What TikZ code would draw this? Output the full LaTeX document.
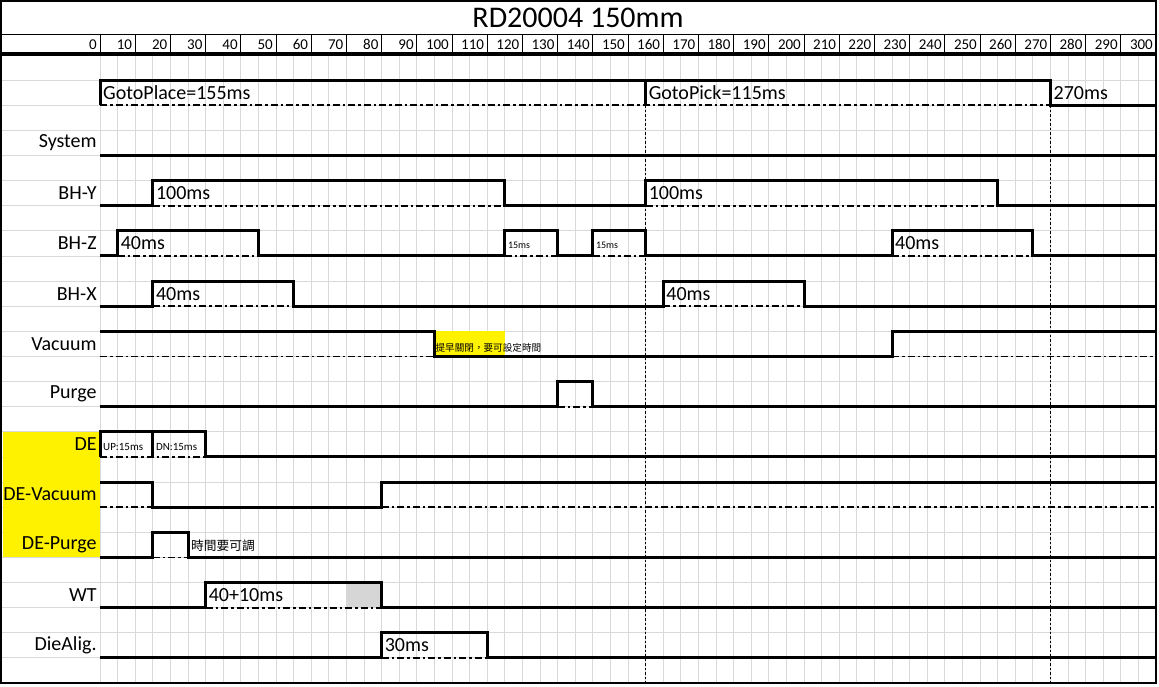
\documentclass[tikz,border=0pt]{standalone}
\usepackage{fontspec}
\setmainfont{Carlito}
\newfontfamily\cjkfont{Noto Sans CJK TC}
\usepackage{xcolor}
\usepackage{tikz}

\begin{document}
\begin{tikzpicture}[
    x=3.52pt, y=-25.12pt,
    gridline/.style={draw=black!15, line width=0.8pt},
    frame/.style={draw=black, line width=1.1pt},
    sig/.style={line width=3pt},
    base/.style={line width=1.8pt, dash pattern=on 7pt off 3pt on 2.5pt off 3pt},
    tmark/.style={line width=1pt, dash pattern=on 2.5pt off 2pt},
    rowlbl/.style={anchor=east, inner sep=0pt, font=\fontsize{20}{22}\selectfont},
    ptxt/.style={anchor=west, inner sep=0pt, xshift=3pt, font=\fontsize{20}{22}\selectfont},
    small/.style={anchor=west, inner sep=0pt, xshift=3pt, font=\fontsize{11}{12}\selectfont},
    num/.style={anchor=east, inner sep=0pt, font=\fontsize{15}{16}\selectfont}
]
\useasboundingbox (-28.41,-2.19) rectangle (300.85,25.12);

\foreach \t in {0,5,...,300} \draw[gridline] (\t,0) -- (\t,25);
\foreach \r in {1,...,24} \draw[gridline] (-28.12,\r) -- (300,\r);

\fill[yellow] (-27.6,15) rectangle (0,20);
\fill[yellow] (95,11) rectangle (115,12);
\fill[black!16] (70,21) rectangle (80,22);

\node[font=\fontsize{30}{32}\selectfont] (title) at (135.8,-1.47) {RD20004 150mm};
\foreach \t in {0,10,...,290} \draw[line width=0.8pt] (\t,-0.8) -- (\t,-0.08);
\foreach \t in {0,10,...,300} \node[num] (h\t) at ({\t-0.85},-0.42) {\t};
\draw[frame] (-28.12,-2.15) rectangle (300,-0.08);
\draw[frame] (-28.12,-0.8) -- (300,-0.8);
\draw[frame] (-28.12,0) rectangle (300,25);

\foreach \i/\name in {1/System, 2/BH-Y, 3/BH-Z, 4/BH-X, 5/Vacuum, 6/Purge, 7/DE, 8/DE-Vacuum, 9/DE-Purge, 10/WT, 11/DieAlig.}
    \node[rowlbl] (row\i) at (-0.9,{2*\i+1.5}) {\name};

\draw[tmark] (155,2) -- (155,25);
\draw[tmark] (270,2) -- (270,25);

\draw[base] (0,2) -- (270,2);
\draw[base] (15,6) -- (115,6);
\draw[base] (155,6) -- (255,6);
\draw[base] (5,8) -- (45,8);
\draw[base] (115,8) -- (130,8);
\draw[base] (140,8) -- (155,8);
\draw[base] (225,8) -- (265,8);
\draw[base] (15,10) -- (55,10);
\draw[base] (160,10) -- (200,10);
\draw[base] (0,12) -- (95,12);
\draw[base] (225,12) -- (300,12);
\draw[base] (130,14) -- (140,14);
\draw[base] (0,16) -- (30,16);
\draw[base] (0,18) -- (15,18);
\draw[base] (80,18) -- (300,18);
\draw[base] (15,20) -- (25,20);
\draw[base] (30,22) -- (80,22);
\draw[base] (80,24) -- (110,24);

\draw[sig] (0,2) -- (0,1) -- (270,1) -- (270,2) -- (300,2);
\draw[sig] (155,1) -- (155,2);
\draw[sig] (0,4) -- (300,4);
\draw[sig] (0,6) -- (15,6) -- (15,5) -- (115,5) -- (115,6) -- (155,6) -- (155,5) -- (255,5) -- (255,6) -- (300,6);
\draw[sig] (0,8) -- (5,8) -- (5,7) -- (45,7) -- (45,8) -- (115,8) -- (115,7) -- (130,7) -- (130,8) -- (140,8) -- (140,7) -- (155,7) -- (155,8) -- (225,8) -- (225,7) -- (265,7) -- (265,8) -- (300,8);
\draw[sig] (0,10) -- (15,10) -- (15,9) -- (55,9) -- (55,10) -- (160,10) -- (160,9) -- (200,9) -- (200,10) -- (300,10);
\draw[sig] (0,11) -- (95,11) -- (95,12) -- (225,12) -- (225,11) -- (300,11);
\draw[sig] (0,14) -- (130,14) -- (130,13) -- (140,13) -- (140,14) -- (300,14);
\draw[sig] (0,16) -- (0,15) -- (30,15) -- (30,16) -- (300,16);
\draw[sig] (15,15) -- (15,16);
\draw[sig] (0,17) -- (15,17) -- (15,18) -- (80,18) -- (80,17) -- (300,17);
\draw[sig] (0,20) -- (15,20) -- (15,19) -- (25,19) -- (25,20) -- (300,20);
\draw[sig] (0,22) -- (30,22) -- (30,21) -- (80,21) -- (80,22) -- (300,22);
\draw[sig] (0,24) -- (80,24) -- (80,23) -- (110,23) -- (110,24) -- (300,24);

\node[ptxt] (place) at (0,1.5) {GotoPlace=155ms};
\node[ptxt] (pick) at (155,1.5) {GotoPick=115ms};
\node[ptxt] (cycle) at (270,1.5) {270ms};
\node[ptxt] (bhy1) at (15,5.5) {100ms};
\node[ptxt] (bhy2) at (155,5.5) {100ms};
\node[ptxt] (bhz1) at (5,7.5) {40ms};
\node[small, font=\fontsize{10}{11}\selectfont] (bhz2) at (115,7.58) {15ms};
\node[small, font=\fontsize{10}{11}\selectfont] (bhz3) at (140,7.58) {15ms};
\node[ptxt] (bhz4) at (225,7.5) {40ms};
\node[ptxt] (bhx1) at (15,9.5) {40ms};
\node[ptxt] (bhx2) at (160,9.5) {40ms};
\node[small, xshift=-2pt, font=\fontsize{9.6}{10}\selectfont\cjkfont] (vacnote) at (95,11.66) {提早關閉，要可設定時間};
\node[small] (deup) at (0,15.6) {UP:15ms};
\node[small] (dedn) at (15,15.6) {DN:15ms};
\node[small, font=\fontsize{12.7}{13}\selectfont\cjkfont] (purgenote) at (25,19.55) {時間要可調};
\node[ptxt] (wt) at (30,21.5) {40+10ms};
\node[ptxt] (align) at (80,23.5) {30ms};

\end{tikzpicture}
\end{document}
